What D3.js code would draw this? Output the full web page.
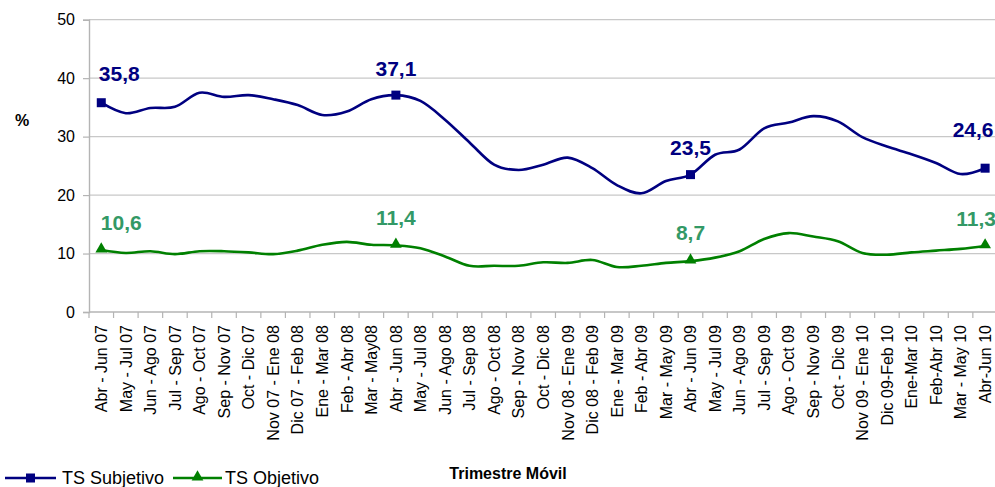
<!DOCTYPE html>
<html>
<head>
<meta charset="utf-8">
<script src="https://cdnjs.cloudflare.com/ajax/libs/d3/7.8.5/d3.min.js"></script>
<style>
  body { margin: 0; background: #fff; }
  svg { display: block; font-family: Arial, "Liberation Sans", sans-serif; }
</style>
</head>
<body>
<svg id="chart"></svg>
<script>
const WIDTH = 995;
const HEIGHT = 487;
const MARGIN = { left: 89, top: 19.7, right: -2.4, bottom: 175 };

const categories = [
  "Abr - Jun 07", "May - Jul 07", "Jun - Ago 07", "Jul - Sep 07", "Ago - Oct 07",
  "Sep - Nov 07", "Oct - Dic 07", "Nov 07 - Ene 08", "Dic 07 - Feb 08", "Ene - Mar 08",
  "Feb - Abr 08", "Mar - May08", "Abr - Jun 08", "May - Jul 08", "Jun - Ago 08",
  "Jul - Sep 08", "Ago - Oct 08", "Sep - Nov 08", "Oct - Dic 08", "Nov 08 - Ene 09",
  "Dic 08 - Feb 09", "Ene - Mar 09", "Feb - Abr 09", "Mar - May 09", "Abr - Jun 09",
  "May - Jul 09", "Jun - Ago 09", "Jul - Sep 09", "Ago - Oct 09", "Sep - Nov 09",
  "Oct - Dic 09", "Nov 09 - Ene 10", "Dic 09-Feb 10", "Ene-Mar 10", "Feb-Abr 10",
  "Mar - May 10", "Abr-Jun 10"
];

const subjetivo = [
  35.8, 34.0, 34.9, 35.1, 37.5, 36.8, 37.1, 36.4, 35.4, 33.7,
  34.3, 36.4, 37.1, 36.1, 32.9, 29.0, 25.2, 24.3, 25.2, 26.4,
  24.6, 21.7, 20.3, 22.4, 23.5, 26.9, 27.8, 31.4, 32.4, 33.5,
  32.6, 29.9, 28.3, 27.0, 25.5, 23.6, 24.6
];

const objetivo = [
  10.6, 10.1, 10.4, 9.9, 10.4, 10.4, 10.2, 9.9, 10.5, 11.5,
  12.0, 11.5, 11.4, 10.9, 9.5, 7.9, 7.9, 7.9, 8.5, 8.4,
  8.9, 7.7, 7.9, 8.4, 8.7, 9.3, 10.4, 12.5, 13.5, 12.9,
  12.1, 10.1, 9.8, 10.2, 10.5, 10.8, 11.3
];

// points with marker + value label
const labelledIdx = [0, 12, 24, 36];
const yTicks = [0, 10, 20, 30, 40, 50];

const series = [
  { name: "TS Subjetivo", values: subjetivo, color: "#000080", labelColor: "#000080", marker: "square",
    labelDx: [18, 0, 0, -12], labelDy: [-22, -19, -20, -31] },
  { name: "TS Objetivo", values: objetivo, color: "#008000", labelColor: "#339966", marker: "triangle",
    labelDx: [20, 0, 0, -9], labelDy: [-20, -20, -21, -20] }
];

const svg = d3.select("#chart").attr("width", WIDTH).attr("height", HEIGHT);

const x = d3.scaleBand()
  .domain(categories)
  .range([MARGIN.left, WIDTH - MARGIN.right])
  .padding(0);

const y = d3.scaleLinear()
  .domain([0, 50])
  .range([HEIGHT - MARGIN.bottom, MARGIN.top]);

const cx = c => x(c) + x.bandwidth() / 2;

// gridlines
svg.append("g")
  .selectAll("line")
  .data(yTicks.filter(d => d > 0))
  .join("line")
  .attr("x1", MARGIN.left)
  .attr("x2", WIDTH)
  .attr("y1", d => y(d))
  .attr("y2", d => y(d))
  .attr("stroke", "#c8c8c8")
  .attr("stroke-width", 1.2);

// y axis
const yAxis = svg.append("g")
  .attr("transform", `translate(${MARGIN.left},0)`)
  .call(d3.axisLeft(y).tickValues(yTicks).tickSize(6).tickPadding(8));
yAxis.select(".domain").attr("stroke", "#b4b4b4").attr("stroke-width", 1.4);
yAxis.selectAll(".tick line").attr("stroke", "#b4b4b4").attr("stroke-width", 1.2);
yAxis.selectAll(".tick text").attr("font-size", 16).attr("fill", "#000").attr("font-family", "Arial, 'Liberation Sans', sans-serif");

// x axis
const x0 = y(0);
svg.append("line")
  .attr("x1", MARGIN.left).attr("x2", WIDTH)
  .attr("y1", x0).attr("y2", x0)
  .attr("stroke", "#b4b4b4").attr("stroke-width", 1.4);

svg.append("g")
  .selectAll("line")
  .data(categories)
  .join("line")
  .attr("x1", d => x(d))
  .attr("x2", d => x(d))
  .attr("y1", x0)
  .attr("y2", x0 + 6)
  .attr("stroke", "#b4b4b4")
  .attr("stroke-width", 1.2);

svg.append("g")
  .selectAll("text")
  .data(categories)
  .join("text")
  .attr("transform", d => `translate(${cx(d)},${x0 + 13}) rotate(-90)`)
  .attr("text-anchor", "end")
  .attr("dy", "0.36em")
  .attr("font-size", 16)
  .attr("fill", "#000")
  .text(d => d);

// "%" label
svg.append("text")
  .attr("x", 22).attr("y", 126)
  .attr("text-anchor", "middle")
  .attr("font-size", 16)
  .attr("font-weight", "bold")
  .text("%");

// axis title
svg.append("text")
  .attr("x", 508).attr("y", 479)
  .attr("text-anchor", "middle")
  .attr("font-size", 16)
  .attr("font-weight", "bold")
  .text("Trimestre Móvil");

const line = d3.line()
  .x((d, i) => cx(categories[i]))
  .y(d => y(d))
  .curve(d3.curveCardinal.tension(0));

const triangle = d3.symbol().type(d3.symbolTriangle).size(60);

function drawMarker(g, kind, px, py, color) {
  if (kind === "square") {
    g.append("rect")
      .attr("x", px - 4.5).attr("y", py - 4.5)
      .attr("width", 9).attr("height", 9)
      .attr("fill", color);
  } else {
    g.append("path")
      .attr("d", triangle())
      .attr("transform", `translate(${px},${py - 1})`)
      .attr("fill", color);
  }
}

series.forEach(s => {
  svg.append("path")
    .datum(s.values)
    .attr("d", line)
    .attr("fill", "none")
    .attr("stroke", s.color)
    .attr("stroke-width", 2.6);

  const g = svg.append("g");
  labelledIdx.forEach((idx, k) => {
    const px = cx(categories[idx]);
    const py = y(s.values[idx]);
    drawMarker(g, s.marker, px, py, s.color);
    g.append("text")
      .attr("x", px + s.labelDx[k])
      .attr("y", py + s.labelDy[k])
      .attr("text-anchor", "middle")
      .attr("font-size", 21)
      .attr("font-weight", "bold")
      .attr("fill", s.labelColor)
      .text(d3.format(".1f")(s.values[idx]).replace(".", ","));
  });
});

// legend
const legendItems = [
  { s: series[0], x1: 5, x2: 56, tx: 62 },
  { s: series[1], x1: 173, x2: 222, tx: 225 }
];
const legend = svg.append("g");
legendItems.forEach(it => {
  const ly = 478;
  legend.append("line")
    .attr("x1", it.x1).attr("x2", it.x2)
    .attr("y1", ly).attr("y2", ly)
    .attr("stroke", it.s.color)
    .attr("stroke-width", 2.6);
  drawMarker(legend, it.s.marker, (it.x1 + it.x2) / 2, ly, it.s.color);
  legend.append("text")
    .attr("x", it.tx).attr("y", ly)
    .attr("dy", "0.36em")
    .attr("font-size", 18)
    .attr("fill", "#000")
    .text(it.s.name);
});
</script>
</body>
</html>
